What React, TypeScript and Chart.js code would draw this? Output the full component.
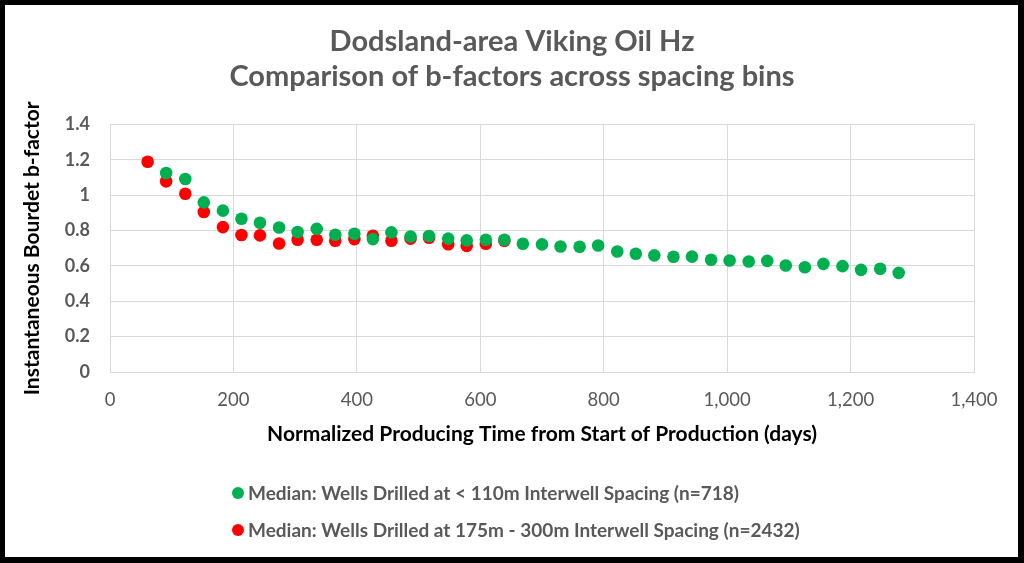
import React, { useEffect, useRef } from "react";
import { Chart, registerables } from "chart.js";

Chart.register(...registerables);

// Normalized producing time (days) for each monthly median
const daysRed = [61, 91, 122, 152, 183, 213, 243, 274, 304, 335, 365, 396, 426, 456, 487, 517, 548, 578, 609, 639];
const daysGreen = [
  91, 122, 152, 183, 213, 243, 274, 304, 335, 365, 396, 426, 456, 487, 517, 548, 578, 609, 639, 669,
  700, 730, 761, 791, 822, 852, 882, 913, 943, 974, 1004, 1035, 1065, 1095, 1126, 1156, 1187, 1217, 1248, 1278,
];

// Median instantaneous b-factor, < 110m spacing
const bGreen = [
  1.126, 1.092, 0.96, 0.913, 0.867, 0.845, 0.818, 0.792, 0.81, 0.777, 0.782, 0.752, 0.79, 0.767, 0.77, 0.755,
  0.745, 0.748, 0.748, 0.726, 0.722, 0.71, 0.709, 0.716, 0.682, 0.669, 0.66, 0.652, 0.653, 0.635, 0.631, 0.625,
  0.629, 0.603, 0.593, 0.612, 0.599, 0.578, 0.584, 0.561,
];

// Median instantaneous b-factor, 175m - 300m spacing
const bRed = [
  1.19, 1.079, 1.009, 0.905, 0.82, 0.775, 0.773, 0.727, 0.748, 0.748, 0.743, 0.752, 0.771, 0.743, 0.755, 0.76,
  0.723, 0.714, 0.726, 0.743,
];

const seriesNames = [
  "Median: Wells Drilled at < 110m Interwell Spacing (n=718)",
  "Median: Wells Drilled at 175m - 300m Interwell Spacing (n=2432)",
];
const seriesColors = ["#00b050", "#ff0000"];
const titleLines = ["Dodsland-area Viking Oil Hz", "Comparison of b-factors across spacing bins"];

const FONT = "Lato, 'Open Sans', sans-serif";
const GREY = "#595959";

// Vertical legend, left-aligned under the x-axis title
const stackedLegend = {
  id: "stackedLegend",
  afterDraw(chart: Chart) {
    const ctx = chart.ctx;
    ctx.save();
    ctx.font = `bold 19px ${FONT}`;
    ctx.textBaseline = "middle";
    ctx.textAlign = "left";
    const rows = [493, 530];
    seriesNames.forEach((name, i) => {
      ctx.fillStyle = seriesColors[i];
      ctx.beginPath();
      ctx.arc(238, rows[i], 6, 0, Math.PI * 2);
      ctx.fill();
      ctx.fillStyle = GREY;
      ctx.fillText(name, 248, rows[i] + 1);
    });
    ctx.restore();
  },
};

export default function App() {
  const ref = useRef<HTMLCanvasElement>(null);

  useEffect(() => {
    if (!ref.current) return;
    const chart = new Chart(ref.current, {
      type: "scatter",
      data: {
        datasets: [
          {
            label: seriesNames[0],
            data: daysGreen.map((d, i) => ({ x: d, y: bGreen[i] })),
            backgroundColor: seriesColors[0],
            borderColor: seriesColors[0],
            pointRadius: 6.3,
            pointHoverRadius: 6.3,
            borderWidth: 0,
          },
          {
            label: seriesNames[1],
            data: daysRed.map((d, i) => ({ x: d, y: bRed[i] })),
            backgroundColor: seriesColors[1],
            borderColor: seriesColors[1],
            pointRadius: 6.3,
            pointHoverRadius: 6.3,
            borderWidth: 0,
          },
        ],
      },
      options: {
        responsive: false,
        animation: false,
        layout: { padding: { top: 5, left: 10, right: 10, bottom: 111 } },
        plugins: {
          legend: { display: false },
          tooltip: { enabled: false },
          title: {
            display: true,
            text: titleLines,
            color: GREY,
            font: { family: FONT, size: 29, weight: "bold", lineHeight: 1.2 },
            padding: { top: 19, bottom: 31 },
          },
        },
        scales: {
          x: {
            type: "linear",
            min: 0,
            max: 1400,
            afterFit: (s: any) => {
              s.height = 80;
            },
            ticks: {
              stepSize: 200,
              color: GREY,
              padding: 17,
              maxRotation: 0,
              font: { family: FONT, size: 18.5 },
            },
            grid: { color: "#d9d9d9", drawTicks: false },
            border: { color: "#d9d9d9" },
            title: {
              display: true,
              text: "Normalized Producing Time from Start of Production (days)",
              color: "#000000",
              font: { family: FONT, size: 21, weight: "bold" },
              padding: { top: 0, bottom: 5 },
            },
          },
          y: {
            min: 0,
            max: 1.4,
            afterFit: (s: any) => {
              s.width = 100;
            },
            ticks: {
              stepSize: 0.2,
              color: GREY,
              padding: 20,
              font: { family: FONT, size: 18, weight: "bold" },
              callback: (v: any) => String(Number(Number(v).toFixed(1))),
            },
            grid: { color: "#d9d9d9", drawTicks: false },
            border: { color: "#d9d9d9" },
            title: {
              display: true,
              text: "Instantaneous Bourdet b-factor",
              color: "#000000",
              font: { family: FONT, size: 21, weight: "bold" },
              padding: { top: 10, bottom: 0 },
            },
          },
          // empty right-hand margin so the plot ends at 1,400 while the title stays centred
          yRight: {
            position: "right",
            min: 0,
            max: 1.4,
            afterFit: (s: any) => {
              s.width = 40;
            },
            ticks: { display: false },
            grid: { display: false, drawTicks: false },
            border: { display: false },
          },
        },
      },
      plugins: [stackedLegend],
    });
    return () => chart.destroy();
  }, []);

  return (
    <div style={{ position: "fixed", left: 0, top: 0, width: 1024, height: 563, background: "#ffffff" }}>
      <canvas ref={ref} width={1024} height={563} style={{ display: "block" }} />
      <div
        style={{
          position: "absolute",
          inset: 0,
          borderStyle: "solid",
          borderColor: "#000000",
          borderWidth: "5px 6px 6px 5px",
          pointerEvents: "none",
        }}
      />
    </div>
  );
}
